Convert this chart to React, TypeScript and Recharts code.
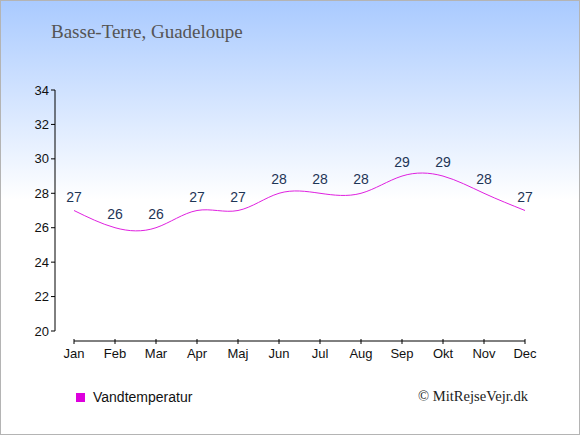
import React from 'react';
import { LineChart, Line, XAxis, YAxis, LabelList } from 'recharts';

const months = ['Jan', 'Feb', 'Mar', 'Apr', 'Maj', 'Jun', 'Jul', 'Aug', 'Sep', 'Okt', 'Nov', 'Dec'];
const waterTemp = [27, 26, 26, 27, 27, 28, 28, 28, 29, 29, 28, 27];
const yTicks = [20, 22, 24, 26, 28, 30, 32, 34];
const title = 'Basse-Terre, Guadeloupe';
const seriesName = 'Vandtemperatur';
const credit = '© MitRejseVejr.dk';

const data = months.map((m, i) => ({ month: m, temp: waterTemp[i] }));

const SANS = '"Liberation Sans", Arial, sans-serif';
const SERIF = '"Liberation Serif", "DejaVu Serif", serif';

const XTick = (props: any) => {
  const { x, y, payload } = props;
  return (
    <g transform={`translate(${x},${y + 10})`}>
      <line x1={0} x2={0} y1={-2} y2={3} stroke="#000" />
      <text x={0} y={17} textAnchor="middle" fontSize={13} fill="#111" fontFamily={SANS}>
        {payload.value}
      </text>
    </g>
  );
};

export default function App() {
  return (
    <div
      style={{
        position: 'absolute',
        left: 0,
        top: 0,
        width: 580,
        height: 435,
        background: 'linear-gradient(to bottom, #a9caff 0px, #ffffff 200px, #ffffff 435px)',
        fontFamily: SANS,
      }}
    >
      <div
        style={{
          position: 'absolute',
          left: 51,
          top: 21,
          fontFamily: SERIF,
          fontSize: 19,
          color: '#555',
          whiteSpace: 'nowrap',
        }}
      >
        {title}
      </div>
      <div style={{ position: 'absolute', left: 0, top: 0 }}>
        <LineChart
          width={580}
          height={435}
          data={data}
          margin={{ top: 90, right: 55, bottom: 74, left: 15 }}
        >
          <XAxis
            dataKey="month"
            padding={{ left: 19, right: 0 }}
            height={30}
            tickLine={false}
            tickSize={0}
            tickMargin={0}
            axisLine={{ stroke: '#000', transform: 'translate(0,10)', strokeDasharray: '0 19 2000' }}
            tick={<XTick />}
            interval={0}
          />
          <YAxis
            domain={[20, 34]}
            ticks={yTicks}
            width={40}
            tickSize={4}
            tickLine={{ stroke: '#000' }}
            axisLine={{ stroke: '#000' }}
            tick={{ fontSize: 13, fill: '#111', fontFamily: SANS }}
            interval={0}
          />
          <Line
            type="natural"
            dataKey="temp"
            stroke="#e020e0"
            strokeWidth={1}
            dot={false}
            activeDot={false}
            isAnimationActive={false}
          >
            <LabelList dataKey="temp" position="top" offset={9} fontSize={14} fill="#1e3556" fontFamily={SANS} />
          </Line>
        </LineChart>
      </div>
      <div style={{ position: 'absolute', left: 76, top: 393, width: 9, height: 9, background: '#dd00dd' }} />
      <div style={{ position: 'absolute', left: 93, top: 389, fontSize: 14, color: '#111', fontFamily: SANS }}>
        {seriesName}
      </div>
      <div style={{ position: 'absolute', left: 418, top: 388, fontSize: 14.6, color: '#222', fontFamily: SERIF }}>
        {credit}
      </div>
      <div
        style={{
          position: 'absolute',
          left: 0,
          top: 0,
          width: 580,
          height: 435,
          boxSizing: 'border-box',
          border: '1px solid #b4b4b4',
          pointerEvents: 'none',
        }}
      />
    </div>
  );
}
